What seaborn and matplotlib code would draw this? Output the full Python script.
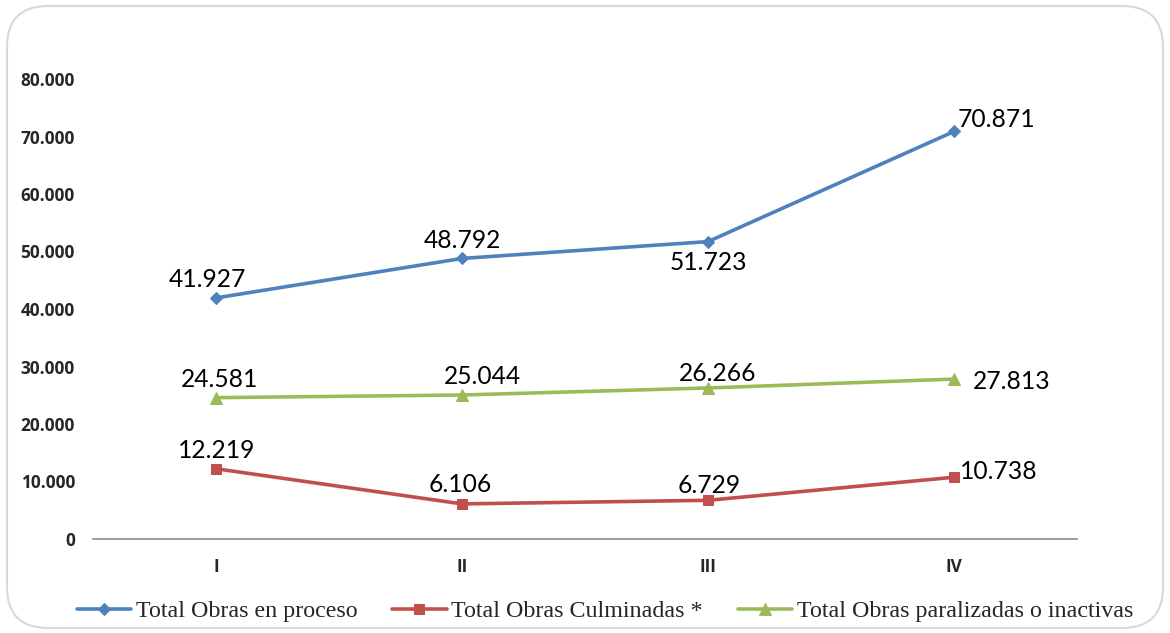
import numpy as np
import pandas as pd
import matplotlib.pyplot as plt
import seaborn as sns
from matplotlib.patches import FancyBboxPatch

# Data
trimestres = ["I", "II", "III", "IV"]
series_names = ["Total Obras en proceso", "Total Obras Culminadas *", "Total Obras paralizadas o inactivas"]
en_proceso = [41927, 48792, 51723, 70871]
culminadas = [12219, 6106, 6729, 10738]
paralizadas = [24581, 25044, 26266, 27813]
y_ticks = [0, 10000, 20000, 30000, 40000, 50000, 60000, 70000, 80000]

sns.set_theme(style="white")
plt.rcParams["font.family"] = ["Open Sans", "DejaVu Sans"]

colors = {series_names[0]: "#4F81BD", series_names[1]: "#C0504D", series_names[2]: "#9BBB59"}
markers = {series_names[0]: "D", series_names[1]: "s", series_names[2]: "^"}
marker_sizes = {series_names[0]: 6, series_names[1]: 7, series_names[2]: 8}

pos = np.arange(len(trimestres))
df = pd.concat([
    pd.DataFrame({"pos": pos, "valor": vals, "serie": name})
    for name, vals in zip(series_names, [en_proceso, culminadas, paralizadas])
], ignore_index=True)

fig = plt.figure(figsize=(11.7, 6.33), dpi=100)
ax = fig.add_axes([93 / 1170, 1 - 539 / 633, (1077 - 93) / 1170, (539 - 79) / 633])

# Rounded outer border
border = FancyBboxPatch((7 / 1170, 5 / 633), 1156 / 1170, 622 / 633,
                        boxstyle="round,pad=0,rounding_size=0.035",
                        transform=fig.transFigure, facecolor="none",
                        edgecolor="#D9D9D9", linewidth=1.5, mutation_aspect=1170 / 633)
fig.patches.append(border)

for name in series_names:
    sub = df[df["serie"] == name]
    sns.lineplot(data=sub, x="pos", y="valor", ax=ax, color=colors[name],
                 marker=markers[name], markersize=marker_sizes[name],
                 markeredgecolor=colors[name], linewidth=2.6, label=name)

# Data labels (offsets in pixels)
offsets = {
    series_names[0]: [(-9, 18), (0, 18), (0, -21), (42, 12)],
    series_names[1]: [(1, 18), (-2, 19), (1, 15), (45, 6)],
    series_names[2]: [(4, 18), (20, 18), (10, 14), (58, -2)],
}
for name, vals in zip(series_names, [en_proceso, culminadas, paralizadas]):
    for i, v in enumerate(vals):
        lbl = f"{v / 1000:.3f}"
        ax.annotate(lbl, (pos[i], v), xytext=offsets[name][i], textcoords="offset pixels",
                    ha="center", va="center", fontsize=17.7, color="black",
                    family=["Lato", "DejaVu Sans"])

ax.set_xlim(-0.5, 3.5)
ax.set_ylim(0, 80000)
ax.set_xticks(pos)
ax.set_xticklabels(trimestres, fontweight="bold", fontsize=12.4)
ax.set_yticks(y_ticks)
ax.set_yticklabels(["0" if t == 0 else f"{t // 1000}.000" for t in y_ticks],
                   fontweight="bold", fontsize=12.4)
ax.tick_params(axis="x", length=0, pad=14)
ax.tick_params(axis="y", length=0, pad=13)
ax.set_xlabel("")
ax.set_ylabel("")
for side in ["top", "right", "left"]:
    ax.spines[side].set_visible(False)
ax.spines["bottom"].set_color("#898989")
ax.spines["bottom"].set_linewidth(1.2)
ax.patch.set_alpha(0)

leg = ax.legend(loc="center", bbox_to_anchor=(605 / 1170, 1 - 611 / 633),
                bbox_transform=fig.transFigure, ncol=3, frameon=False,
                prop={"family": "Liberation Serif", "size": 17.3},
                handlelength=2.25, handletextpad=0.2, columnspacing=1.45)

fig.savefig("out.png", dpi=100)
